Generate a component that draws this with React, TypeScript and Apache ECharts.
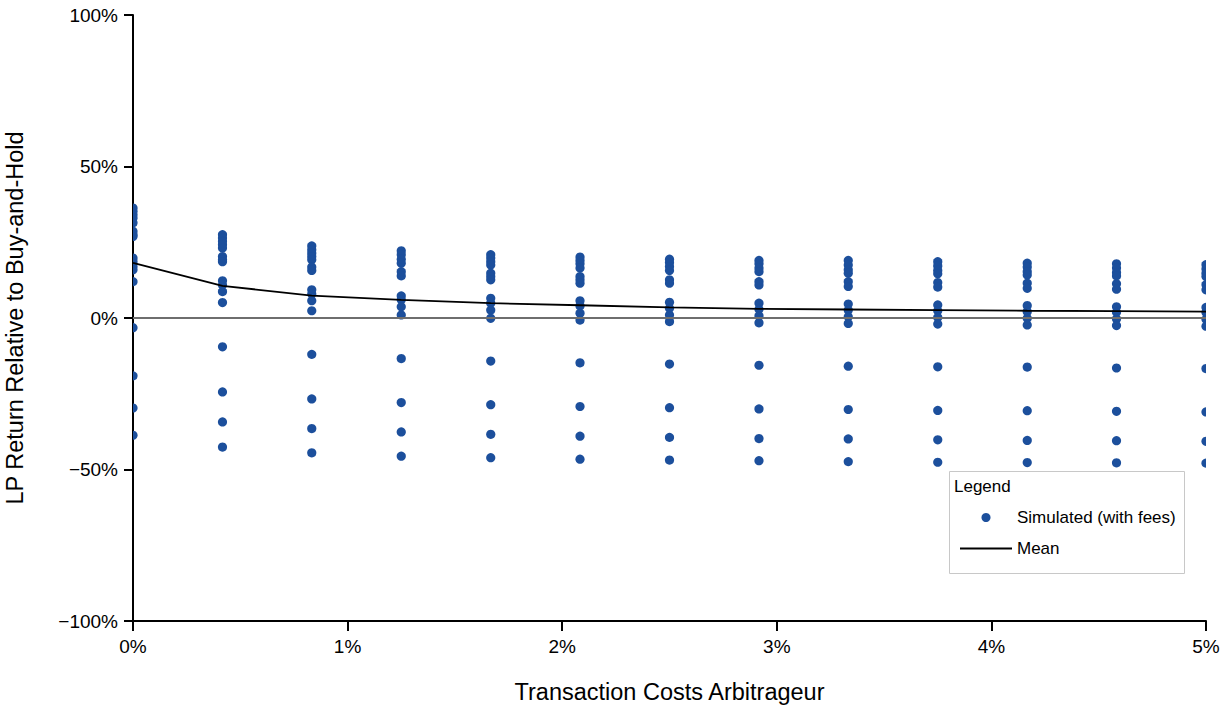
import React, { useRef, useEffect } from 'react'
import * as echarts from 'echarts'

// transaction costs of the arbitrageur, in %
const costLevels = [0, 0.417, 0.833, 1.25, 1.667, 2.083, 2.5, 2.917, 3.333, 3.75, 4.167, 4.583, 5]

// simulated LP returns relative to buy-and-hold (in %), one list per cost level
const simulated = [
  [36.3, 35.2, 34.1, 33.0, 31.4, 28.6, 27.5, 26.9, 19.8, 18.6, 17.0, 15.9, 12.0, -3.2, -19.1, -29.7, -38.7],
  [27.5, 26.4, 25.3, 24.2, 23.1, 20.3, 19.2, 18.6, 12.3, 10.9, 8.7, 5.1, -9.5, -24.4, -34.3, -42.6],
  [23.8, 22.5, 21.4, 20.3, 19.2, 16.8, 15.7, 9.3, 7.9, 5.7, 2.4, -12.0, -26.7, -36.5, -44.5],
  [22.2, 20.9, 19.4, 18.1, 15.3, 13.9, 7.3, 6.0, 3.7, 1.0, -13.4, -27.9, -37.6, -45.6],
  [20.9, 19.8, 18.6, 17.5, 14.8, 13.7, 12.6, 6.5, 4.9, 2.6, -0.1, -14.2, -28.6, -38.4, -46.1],
  [20.1, 19.0, 17.9, 16.5, 13.7, 12.6, 11.5, 5.7, 4.0, 1.6, -0.7, -14.8, -29.2, -39.0, -46.6],
  [19.4, 18.3, 17.0, 15.7, 12.6, 11.5, 5.2, 3.2, 1.0, -1.2, -15.2, -29.6, -39.4, -46.9],
  [19.0, 17.9, 16.5, 15.3, 12.0, 10.9, 4.9, 2.9, 0.7, -1.6, -15.6, -30.0, -39.8, -47.1],
  [19.0, 17.5, 15.9, 14.8, 12.0, 10.4, 4.6, 2.6, 0.4, -1.8, -15.9, -30.2, -39.9, -47.4],
  [18.6, 17.2, 15.7, 14.6, 11.7, 10.2, 4.3, 2.4, 0.2, -2.0, -16.1, -30.5, -40.2, -47.6],
  [18.1, 16.8, 15.3, 14.2, 11.5, 9.8, 4.1, 2.1, -0.1, -2.3, -16.2, -30.6, -40.4, -47.7],
  [17.9, 16.5, 15.0, 13.9, 11.3, 9.5, 3.7, 1.9, -0.3, -2.5, -16.5, -30.8, -40.5, -47.8],
  [17.6, 16.2, 14.8, 13.7, 11.0, 9.3, 3.5, 1.8, -0.4, -2.7, -16.7, -31.0, -40.7, -47.9],
]

// mean return per cost level (in %)
const meanReturn = [18.2, 10.6, 7.4, 6.0, 4.9, 4.2, 3.5, 3.0, 2.8, 2.6, 2.4, 2.3, 2.1]

const yTicks = [-100, -50, 0, 50, 100]
const xTicks = [0, 1, 2, 3, 4, 5]

const FONT = "'Liberation Sans', Arial, sans-serif"
const DOT = '#1c4f9c'

const pct = (v: number) => (v < 0 ? '\u2212' + Math.abs(v) : String(v)) + '%'

function App() {
  const chartRef = useRef<HTMLDivElement>(null)

  useEffect(() => {
    const chart = echarts.init(chartRef.current, null, { renderer: 'svg' })

    const scatterData: number[][] = []
    costLevels.forEach((x, i) => {
      simulated[i].forEach((y) => scatterData.push([x, y]))
    })

    const option = {
      animation: false,
      textStyle: { fontFamily: FONT },
      grid: { left: 133, top: 15, right: 20, bottom: 89, containLabel: false, outerBoundsMode: 'none' },
      xAxis: {
        type: 'value',
        min: xTicks[0],
        max: xTicks[xTicks.length - 1],
        interval: 1,
        name: 'Transaction Costs Arbitrageur',
        nameLocation: 'middle',
        nameGap: 59,
        nameTextStyle: { fontSize: 23.5, color: '#000', fontFamily: FONT },
        axisLine: { onZero: false, lineStyle: { color: '#000', width: 2 } },
        axisTick: { length: 10, lineStyle: { color: '#000', width: 2 } },
        axisLabel: { margin: 16, fontSize: 19, color: '#000', fontFamily: FONT, formatter: pct },
        splitLine: { show: false },
      },
      yAxis: {
        type: 'value',
        min: yTicks[0],
        max: yTicks[yTicks.length - 1],
        interval: 50,
        name: 'LP Return Relative to Buy-and-Hold',
        nameLocation: 'middle',
        nameGap: 106,
        nameTextStyle: { fontSize: 23.5, color: '#000', fontFamily: FONT },
        axisLine: { show: true, lineStyle: { color: '#000', width: 2 } },
        axisTick: { show: true, length: 9, lineStyle: { color: '#000', width: 2 } },
        axisLabel: { margin: 15, fontSize: 19, color: '#000', fontFamily: FONT, formatter: pct },
        splitLine: { show: false },
      },
      legend: {
        orient: 'vertical',
        left: 955,
        top: 504,
        itemWidth: 52,
        itemHeight: 9,
        itemGap: 14,
        symbolKeepAspect: true,
        textStyle: { fontSize: 17, color: '#000', fontFamily: FONT },
        data: [
          { name: 'Simulated (with fees)', icon: 'circle' },
          { name: 'Mean', icon: 'path://M0 0H52V2H0Z' },
        ],
      },
      graphic: [
        {
          type: 'rect',
          left: 949,
          top: 471,
          shape: { width: 235, height: 102 },
          style: { fill: '#fff', stroke: '#c8c8c8', lineWidth: 1 },
          z: 0,
        },
        {
          type: 'text',
          left: 954,
          top: 478,
          style: { text: 'Legend', fontSize: 17, fill: '#000', fontFamily: FONT },
          z: 1,
        },
      ],
      series: [
        {
          name: 'Simulated (with fees)',
          type: 'custom',
          data: scatterData,
          clip: true,
          itemStyle: { color: DOT },
          encode: { x: 0, y: 1 },
          renderItem: (params: any, api: any) => {
            const p = api.coord([api.value(0), api.value(1)])
            return {
              type: 'circle',
              shape: { cx: p[0], cy: p[1], r: 4.6 },
              style: { fill: DOT },
            }
          },
          z: 2,
        },
        {
          name: 'Mean',
          type: 'line',
          data: costLevels.map((x, i) => [x, meanReturn[i]]),
          symbol: 'none',
          lineStyle: { color: '#000', width: 1.8 },
          itemStyle: { color: '#000' },
          z: 3,
          markLine: {
            silent: true,
            symbol: 'none',
            label: { show: false },
            lineStyle: { color: '#6e6e6e', width: 2, type: 'solid' },
            data: [{ yAxis: 0 }],
          },
        },
      ],
    }

    chart.setOption(option)

    return () => {
      chart.dispose()
    }
  }, [])

  return (
    <div
      ref={chartRef}
      style={{ position: 'absolute', left: 0, top: 0, width: 1226, height: 710, background: '#fff' }}
    ></div>
  )
}

export default App
